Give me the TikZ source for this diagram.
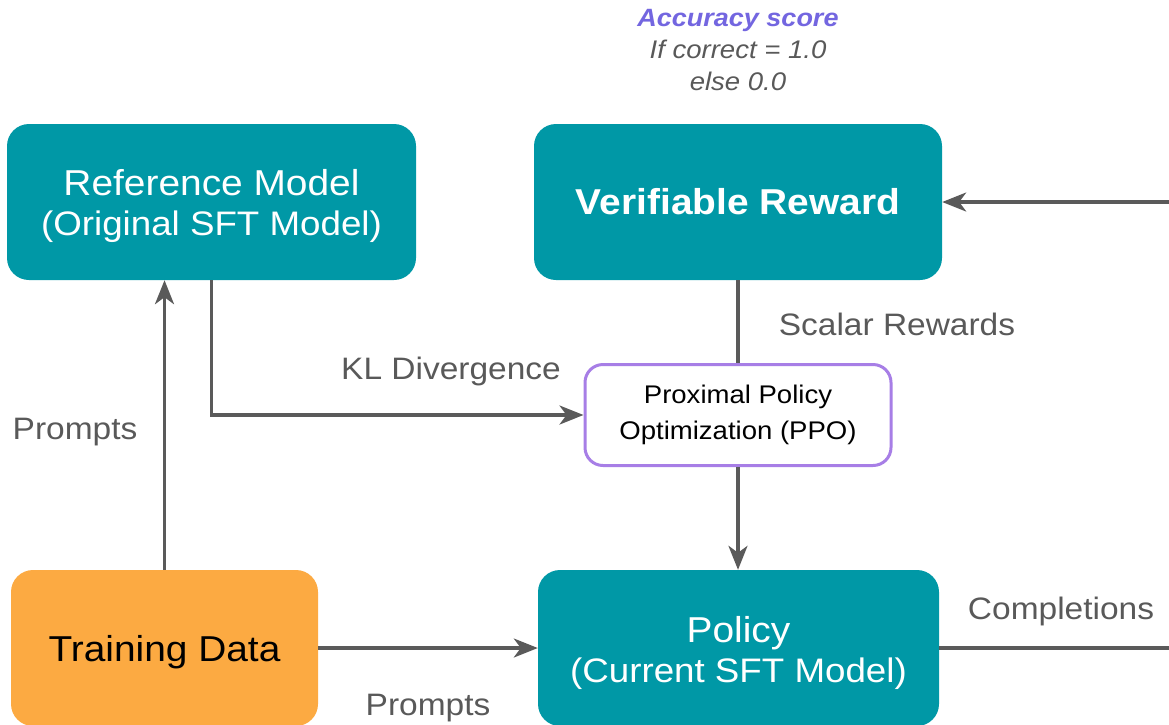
\documentclass[tikz,border=0pt]{standalone}
\usepackage{fontspec}
\setmainfont[FakeStretch=1.08]{Liberation Sans}
\usetikzlibrary{arrows.meta}

\definecolor{tealbox}{HTML}{0098A6}
\definecolor{orangebox}{HTML}{FCAA42}
\definecolor{ppoborder}{HTML}{A77EE6}
\definecolor{accpurple}{HTML}{7366E0}
\definecolor{labelgray}{HTML}{595959}
\definecolor{linegray}{HTML}{5A5A5A}

\tikzset{
  modelbox/.style={rectangle, rounded corners=22pt, fill=tealbox, text=white,
    align=center, inner sep=0pt},
  databox/.style={rectangle, rounded corners=22pt, fill=orangebox, text=black,
    align=center, inner sep=0pt},
  ppobox/.style={rectangle, rounded corners=18pt, draw=ppoborder, line width=3pt,
    fill=white, text=black, align=center, inner sep=0pt},
  boxtext/.style={align=center, inner sep=0pt, font=\fontsize{36}{40}\selectfont},
  flow/.style={draw=linegray, line width=3.2pt},
  flowarrow/.style={flow, -{Stealth[length=24pt, width=19pt, inset=7pt]}},
  edgelabel/.style={text=labelgray, inner sep=0pt, font=\fontsize{31}{36}\selectfont},
}
\newcommand{\subline}[1]{{\fontsize{34}{40}\selectfont #1}}

\begin{document}
\begin{tikzpicture}[x=1pt, y=-1pt]
  \useasboundingbox (0,0) rectangle (1169,724);
  \clip (0,0) rectangle (1169,724);

  % boxes
  \node[modelbox, minimum width=409pt, minimum height=156pt] (ref) at (211.5,202) {};
  \node[boxtext, text=white] (reftext) at ([yshift=-4pt]ref.center)
    {Reference Model\\\subline{(Original SFT Model)}};
  \node[modelbox, minimum width=408pt, minimum height=156pt, font=\fontsize{36}{40}\selectfont\bfseries]
    (vr) at (738,202) {Verifiable Reward};
  \node[ppobox, minimum width=306pt, minimum height=101pt, font=\fontsize{25.5}{36}\selectfont]
    (ppo) at (738,415) {Proximal Policy\\Optimization (PPO)};
  \node[databox, minimum width=307pt, minimum height=156pt] (td) at (164.5,648) {};
  \node[boxtext, text=black] (tdtext) at ([yshift=-4pt]td.center) {Training Data};
  \node[modelbox, minimum width=401pt, minimum height=156pt] (pol) at (738.5,648) {};
  \node[boxtext, text=white] (poltext) at ([yshift=-5pt]pol.center)
    {Policy\\\subline{(Current SFT Model)}};

  % reward annotation
  \node[align=center, inner sep=0pt, font=\fontsize{25.5}{32}\selectfont\itshape, text=labelgray]
    (acc) at (738,50) {{\fontsize{25}{32}\selectfont\color{accpurple}\bfseries Accuracy score}\\If correct = 1.0\\else 0.0};

  % loose ends at the right border
  \coordinate (rin) at (1169,202);
  \coordinate (rout) at (1169,648);

  % connectors
  \draw[flowarrow] (td.north) -- (td.north |- ref.south);
  \draw[flowarrow] (ref.south) |- (ppo.west);
  \draw[flow] (vr.south) -- (ppo.north);
  \draw[flowarrow] (ppo.south) -- (ppo.south |- pol.north);
  \draw[flowarrow] (td.east) -- (pol.west);
  \draw[flow] (pol.east) -- (rout);
  \draw[flowarrow] (rin) -- (vr.east);

  % connector labels
  \node[edgelabel] (lprompt1) at (75,432) {Prompts};
  \node[edgelabel] (lkl) at (451,371) {KL Divergence};
  \node[edgelabel] (lscalar) at (897,324) {Scalar Rewards};
  \node[edgelabel] (lcompl) at (1061,611) {Completions};
  \node[edgelabel] (lprompt2) at (428,708) {Prompts};
\end{tikzpicture}
\end{document}
